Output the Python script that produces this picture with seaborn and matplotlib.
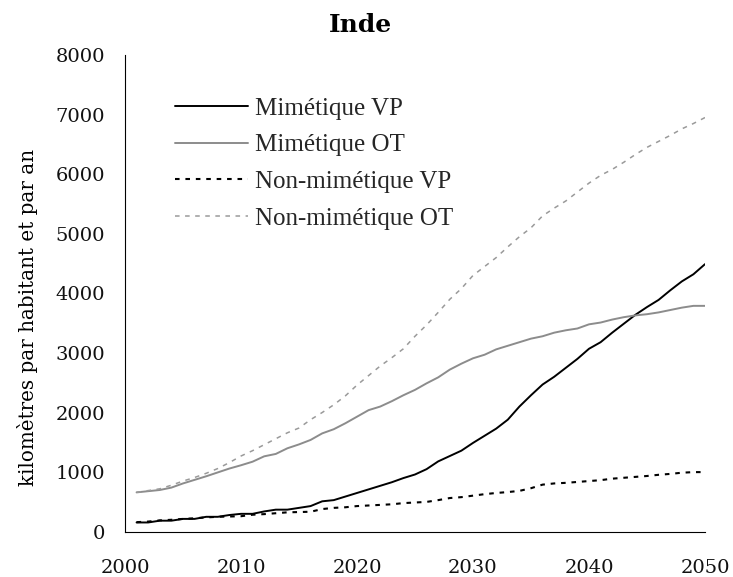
import matplotlib
matplotlib.use("Agg")
import matplotlib.pyplot as plt
import seaborn as sns
import pandas as pd

sns.set_theme(style="white")
plt.rcParams["font.family"] = ["DejaVu Serif"]

years = list(range(2001, 2051))

mimetique_vp = [155, 155, 185, 185, 215, 215, 250, 250, 280, 300,
                300, 340, 370, 370, 400, 430, 510, 530, 590, 650,
                710, 770, 830, 900, 960, 1050, 1180, 1270, 1360, 1490,
                1610, 1730, 1880, 2100, 2290, 2470, 2600, 2750, 2900, 3070,
                3180, 3340, 3490, 3640, 3770, 3890, 4050, 4200, 4320, 4490]

mimetique_ot = [660, 680, 700, 740, 810, 870, 930, 995, 1060, 1115,
                1175, 1265, 1305, 1400, 1465, 1540, 1650, 1720, 1820, 1930,
                2040, 2100, 2190, 2290, 2380, 2490, 2590, 2720, 2820, 2910,
                2970, 3060, 3120, 3180, 3240, 3280, 3340, 3380, 3410, 3480,
                3510, 3560, 3600, 3630, 3650, 3680, 3720, 3760, 3790, 3790]

non_mimetique_vp = [160, 170, 190, 200, 215, 225, 240, 250, 255, 260,
                    285, 295, 310, 325, 330, 335, 380, 400, 410, 430,
                    440, 450, 460, 480, 490, 500, 530, 565, 580, 605,
                    630, 650, 665, 685, 730, 790, 810, 820, 835, 850,
                    865, 890, 905, 920, 935, 955, 970, 990, 1000, 1000]

non_mimetique_ot = [660, 690, 720, 780, 850, 910, 980, 1060, 1160, 1270,
                    1360, 1460, 1560, 1660, 1740, 1880, 2000, 2130, 2280, 2460,
                    2620, 2780, 2920, 3070, 3280, 3470, 3680, 3900, 4080, 4300,
                    4450, 4600, 4780, 4950, 5100, 5300, 5430, 5550, 5700, 5850,
                    5980, 6080, 6200, 6330, 6450, 6550, 6650, 6760, 6850, 6950]

series_names = ["Mimétique VP", "Mimétique OT", "Non-mimétique VP", "Non-mimétique OT"]
series_values = [mimetique_vp, mimetique_ot, non_mimetique_vp, non_mimetique_ot]

x_ticks = [2000, 2010, 2020, 2030, 2040, 2050]
y_ticks = [0, 1000, 2000, 3000, 4000, 5000, 6000, 7000, 8000]

df = pd.concat(
    [pd.DataFrame({"année": years, "km": vals, "série": name})
     for name, vals in zip(series_names, series_values)],
    ignore_index=True,
)

palette = {
    "Mimétique VP": "#000000",
    "Mimétique OT": "#8c8c8c",
    "Non-mimétique VP": "#000000",
    "Non-mimétique OT": "#9a9a9a",
}
dashes = {
    "Mimétique VP": "",
    "Mimétique OT": "",
    "Non-mimétique VP": (2.2, 2.8),
    "Non-mimétique OT": (3.0, 3.6),
}
widths = {
    "Mimétique VP": 1.4,
    "Mimétique OT": 1.4,
    "Non-mimétique VP": 1.5,
    "Non-mimétique OT": 1.1,
}

fig = plt.figure(figsize=(7.33, 5.77), dpi=100)
ax = fig.add_axes([0.1705, 0.0785, 0.7913, 0.8262])

sns.lineplot(data=df, x="année", y="km", hue="série", style="série",
             palette=palette, dashes=dashes, hue_order=series_names,
             style_order=series_names, ax=ax, legend=True)

for line, name in zip(ax.get_lines(), series_names):
    line.set_linewidth(widths[name])

ax.set_xlim(2000, 2050)
ax.set_ylim(0, 8000)
ax.set_xticks(x_ticks)
ax.set_yticks(y_ticks)
ax.set_xticklabels([str(t) for t in x_ticks])
ax.set_yticklabels([str(t) for t in y_ticks])
ax.tick_params(axis="both", direction="out", length=5.5, width=0.8,
               color="black", labelsize=14, labelcolor="#111111")
ax.tick_params(axis="x", pad=14)
ax.tick_params(axis="y", pad=9)
ax.grid(False)

for side in ["top", "right"]:
    ax.spines[side].set_visible(False)
for side in ["left", "bottom"]:
    ax.spines[side].set_color("black")
    ax.spines[side].set_linewidth(0.8)

ax.set_xlabel("")
ax.set_ylabel("kilomètres par habitant et par an", fontsize=14.3, color="black")
ax.yaxis.set_label_coords(-0.15, 0.45)

handles, labels = ax.get_legend_handles_labels()
for h, name in zip(handles, labels):
    h.set_linewidth(widths[name])
leg = ax.legend(handles, labels, loc="upper left",
                bbox_to_anchor=(175 / 733, 1 - 97 / 577),
                bbox_transform=fig.transFigure,
                frameon=False, handlelength=2.9, handletextpad=0.3,
                labelspacing=0.57, borderpad=0, borderaxespad=0,
                prop={"family": "Liberation Serif", "size": 18})

fig.text(360 / 733, 1 - 25 / 577, "Inde", ha="center", va="center",
         fontsize=18, fontweight="bold", color="black")

fig.savefig("out.png", dpi=100, facecolor="white")
